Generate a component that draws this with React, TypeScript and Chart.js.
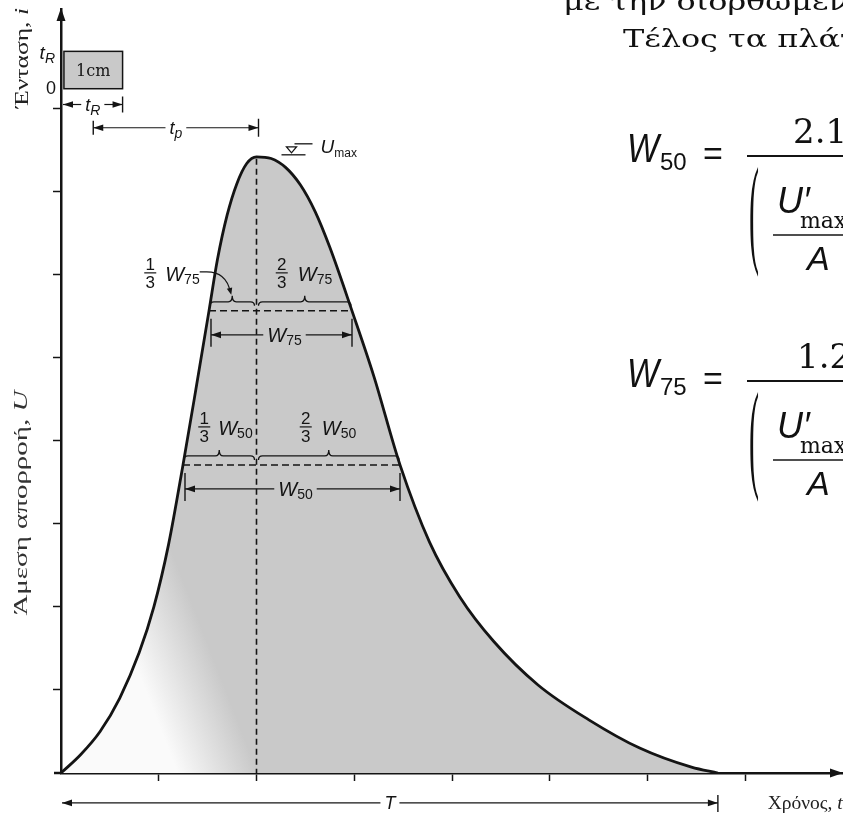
import React, { useEffect, useRef } from "react";
import { Chart, registerables } from "chart.js";

Chart.register(...registerables);

// ---------------- data ----------------
const timeValues = [0, 0.2, 0.4, 0.6, 0.8, 0.95, 1.1, 1.248, 1.38, 1.514, 1.6, 1.7, 1.8, 1.9, 2.0, 2.15, 2.3, 2.45, 2.6, 2.75, 2.977, 3.2, 3.468, 3.77, 4.08, 4.43, 4.88, 5.4, 5.92, 6.45, 6.72];
const runoffValues = [0, 0.22, 0.5, 0.9, 1.45, 2.0, 2.75, 3.71, 4.62, 5.565, 6.18, 6.72, 7.1, 7.34, 7.42, 7.4, 7.29, 7.08, 6.76, 6.33, 5.565, 4.78, 3.71, 2.78, 2.12, 1.58, 1.06, 0.64, 0.3, 0.07, 0];
const xTickValues = [1, 2, 3, 4, 5, 6, 7];
const yTickValues = [1, 2, 3, 4, 5, 6, 7, 8];
const peakTime = 2.0;
const peakFlow = 7.42;
const baseTime = 6.72;
const rainStart = 0.03;
const rainEnd = 0.63;
const rainLow = 8.24;
const rainHigh = 8.69;
const rainCentroid = 0.33;
const w75Range = [1.514, 2.977];
const w50Range = [1.248, 3.468];
const dimTRLevel = 8.05;
const dimTPLevel = 7.77;
const dimTLevel = -0.36;
const shadeMid = [1.3, 1.17];

const axisTitleIntensity = ["Ένταση, ", "i"];
const axisTitleRunoff = ["Άμεση απορροή, ", "U"];
const axisTitleTime = ["Χρόνος, ", "t"];
const pageLine1 = "με την διορθωμένη";
const pageLine2 = "Τέλος τα πλάτη";
const pageLine2Visible = "Τέλος τα πλά";
const formulaRows = [
  { sub: "50", num: "2.1" },
  { sub: "75", num: "1.2" },
];

// ---------------- styles ----------------
const INK = "#141414";
const FILL_GRAY = "#c9c9c9";
const SANS = '"Liberation Sans", Arial, sans-serif';
const SERIF = '"Liberation Serif", "Times New Roman", serif';
const BOOK = '"DejaVu Serif", serif';

type Part = { s: string; font: string; dy?: number };

function partsWidth(ctx: CanvasRenderingContext2D, parts: Part[]) {
  let w = 0;
  for (const p of parts) {
    ctx.font = p.font;
    w += ctx.measureText(p.s).width;
  }
  return w;
}
function drawParts(ctx: CanvasRenderingContext2D, parts: Part[], x: number, y: number) {
  ctx.textAlign = "left";
  ctx.textBaseline = "alphabetic";
  let cx = x;
  for (const p of parts) {
    ctx.font = p.font;
    ctx.fillText(p.s, cx, y + (p.dy || 0));
    cx += ctx.measureText(p.s).width;
  }
  return cx - x;
}
function fitParts(ctx: CanvasRenderingContext2D, parts: Part[], x: number, y: number, target: number) {
  const w = partsWidth(ctx, parts);
  ctx.save();
  ctx.translate(x, y);
  ctx.scale(target / w, 1);
  drawParts(ctx, parts, 0, 0);
  ctx.restore();
}
function rotatedTitle(ctx: CanvasRenderingContext2D, parts: Part[], cx: number, cy: number, length: number) {
  const w = partsWidth(ctx, parts);
  ctx.save();
  ctx.translate(cx, cy);
  ctx.rotate(-Math.PI / 2);
  ctx.scale(length / w, 1);
  drawParts(ctx, parts, -w / 2, 6);
  ctx.restore();
}
function seg(ctx: CanvasRenderingContext2D, x1: number, y1: number, x2: number, y2: number) {
  ctx.beginPath();
  ctx.moveTo(x1, y1);
  ctx.lineTo(x2, y2);
  ctx.stroke();
}
function arrowHead(ctx: CanvasRenderingContext2D, x: number, y: number, dir: number, len = 10, half = 3.5) {
  const c = Math.cos(dir), s = Math.sin(dir);
  ctx.beginPath();
  ctx.moveTo(x, y);
  ctx.lineTo(x - len * c + half * s, y - len * s - half * c);
  ctx.lineTo(x - len * c - half * s, y - len * s + half * c);
  ctx.closePath();
  ctx.fill();
}
function brace(ctx: CanvasRenderingContext2D, x1: number, x2: number, y: number, tip: number) {
  const xm = (x1 + x2) / 2;
  const r = 4;
  ctx.beginPath();
  ctx.moveTo(x1, y + r);
  ctx.quadraticCurveTo(x1, y, x1 + r, y);
  ctx.lineTo(xm - r, y);
  ctx.quadraticCurveTo(xm, y, xm, y - tip);
  ctx.quadraticCurveTo(xm, y, xm + r, y);
  ctx.lineTo(x2 - r, y);
  ctx.quadraticCurveTo(x2, y, x2, y + r);
  ctx.stroke();
}
function fraction(ctx: CanvasRenderingContext2D, num: string, den: string, cx: number, barY: number) {
  ctx.font = `17px ${SANS}`;
  ctx.textAlign = "center";
  ctx.textBaseline = "alphabetic";
  ctx.fillText(num, cx, barY - 3);
  ctx.fillText(den, cx, barY + 15);
  ctx.lineWidth = 1.2;
  seg(ctx, cx - 6, barY, cx + 6, barY);
}
const wParts = (sub: string): Part[] => [
  { s: "W", font: `italic 20px ${SANS}` },
  { s: sub, font: `14px ${SANS}`, dy: 3 },
];
const subParts = (main: string, sub: string, size = 18): Part[] => [
  { s: main, font: `italic ${size}px ${SANS}` },
  { s: sub, font: `italic ${Math.round(size * 0.75)}px ${SANS}`, dy: 4 },
];

function dimension(
  ctx: CanvasRenderingContext2D,
  x1: number,
  x2: number,
  y: number,
  label: Part[],
  o: { leftBar?: [number, number]; rightBar?: [number, number]; shift?: number; leftHead?: boolean; rightHead?: boolean; baseDy?: number }
) {
  const w = partsWidth(ctx, label);
  const cx = (x1 + x2) / 2 + (o.shift || 0);
  ctx.lineWidth = 1.2;
  ctx.setLineDash([]);
  seg(ctx, x1, y, cx - w / 2 - 4, y);
  seg(ctx, cx + w / 2 + 4, y, x2, y);
  if (o.leftHead !== false) arrowHead(ctx, x1, y, Math.PI, 10, 3.3);
  if (o.rightHead !== false) arrowHead(ctx, x2, y, 0, 10, 3.3);
  ctx.lineWidth = 1.4;
  if (o.leftBar) seg(ctx, x1, o.leftBar[0], x1, o.leftBar[1]);
  if (o.rightBar) seg(ctx, x2, o.rightBar[0], x2, o.rightBar[1]);
  drawParts(ctx, label, cx - w / 2, y + (o.baseDy ?? 6));
}

const fillGradient = (c: any) => {
  const chart = c.chart;
  const { ctx, chartArea, scales } = chart;
  if (!chartArea || !scales.x || !scales.y) return FILL_GRAY;
  const mx = scales.x.getPixelForValue(shadeMid[0]);
  const my = scales.y.getPixelForValue(shadeMid[1]);
  const nx = 0.932, ny = -0.362;
  const g = ctx.createLinearGradient(mx - 45 * nx, my - 45 * ny, mx + 30 * nx, my + 30 * ny);
  g.addColorStop(0, "#fafafa");
  g.addColorStop(1, FILL_GRAY);
  return g;
};

const figurePlugin = {
  id: "figureAnnotations",
  afterDraw(chart: any) {
    const { ctx, chartArea: ca, scales } = chart;
    const X = (v: number) => scales.x.getPixelForValue(v);
    const Y = (v: number) => scales.y.getPixelForValue(v);
    const x0 = X(0), y0 = Y(0);
    const xp = X(peakTime), yp = Y(peakFlow);
    ctx.save();
    ctx.fillStyle = INK;
    ctx.strokeStyle = INK;
    ctx.lineCap = "butt";

    // axis extensions and arrow heads
    ctx.lineWidth = 2.5;
    seg(ctx, x0 - 7, y0, x0, y0);
    arrowHead(ctx, ca.right, y0, 0, 13, 4.5);
    arrowHead(ctx, x0, ca.top - 1, -Math.PI / 2, 13, 4.5);

    // peak dashed line
    ctx.lineWidth = 1.6;
    ctx.setLineDash([6, 4]);
    seg(ctx, xp, yp + 2, xp, y0);
    ctx.setLineDash([]);

    // W75 / W50 constructions
    const levels = [
      { frac: 0.75, range: w75Range, sub: "75", outside: true },
      { frac: 0.5, range: w50Range, sub: "50", outside: false },
    ];
    for (const L of levels) {
      const yl = Y(peakFlow * L.frac);
      const xl = X(L.range[0]);
      const xr = X(L.range[1]);
      ctx.lineWidth = 1.5;
      ctx.setLineDash([7, 4]);
      seg(ctx, xl, yl, xr, yl);
      ctx.setLineDash([]);
      const yb = yl - 9;
      ctx.lineWidth = 1.3;
      brace(ctx, xl + 1, xp - 2, yb, 6);
      brace(ctx, xp + 2, xr - 1, yb, 6);
      const tipL = (xl + 1 + xp - 2) / 2;
      const tipR = (xp + 2 + xr - 1) / 2;
      fraction(ctx, "2", "3", tipR - 23, yb - 29);
      drawParts(ctx, wParts(L.sub), tipR - 7, yb - 21);
      if (L.outside) {
        fraction(ctx, "1", "3", tipL - 82, yb - 29);
        const w = drawParts(ctx, wParts(L.sub), tipL - 67, yb - 21);
        const sx = tipL - 67 + w;
        ctx.lineWidth = 1.1;
        ctx.beginPath();
        ctx.moveTo(sx, yb - 30);
        ctx.lineTo(sx + 7, yb - 30);
        ctx.quadraticCurveTo(tipL - 6, yb - 30, tipL - 2, yb - 10);
        ctx.stroke();
        arrowHead(ctx, tipL - 1, yb - 7, Math.PI * 0.42, 7, 2.8);
      } else {
        fraction(ctx, "1", "3", tipL - 15, yb - 29);
        drawParts(ctx, wParts(L.sub), tipL - 1, yb - 21);
      }
      const ya = yl + 24;
      dimension(ctx, xl + 2, xr, ya, wParts(L.sub), {
        leftBar: [yl + 8, ya + 12],
        rightBar: [yl + 8, ya + 12],
        shift: 3,
        baseDy: 7,
      });
    }

    // Umax water-level mark
    ctx.lineWidth = 1.3;
    seg(ctx, xp + 25, yp - 2, xp + 49, yp - 2);
    ctx.beginPath();
    ctx.moveTo(xp + 30, yp - 10);
    ctx.lineTo(xp + 40, yp - 10);
    ctx.lineTo(xp + 35, yp - 4);
    ctx.closePath();
    ctx.stroke();
    seg(ctx, xp + 38, yp - 13, xp + 56, yp - 13);
    drawParts(ctx, [
      { s: "U", font: `italic 19px ${SANS}` },
      { s: "max", font: `12px ${SANS}`, dy: 4 },
    ], xp + 64, yp - 4);

    // rainfall block
    const rx1 = X(rainStart), rx2 = X(rainEnd);
    const ry1 = Y(rainHigh), ry2 = Y(rainLow);
    ctx.fillStyle = FILL_GRAY;
    ctx.fillRect(rx1, ry1, rx2 - rx1, ry2 - ry1);
    ctx.fillStyle = INK;
    ctx.lineWidth = 1.5;
    ctx.strokeRect(rx1, ry1, rx2 - rx1, ry2 - ry1);
    ctx.font = `16px ${BOOK}`;
    ctx.textAlign = "center";
    ctx.fillText("1cm", (rx1 + rx2) / 2, (ry1 + ry2) / 2 + 6);
    const tRw = partsWidth(ctx, subParts("t", "R", 19));
    drawParts(ctx, subParts("t", "R", 19), x0 - 6 - tRw, ry1 + 8);
    ctx.font = `18px ${SANS}`;
    ctx.textAlign = "right";
    ctx.fillText("0", x0 - 5, ry2 + 5);

    // dimension lines
    dimension(ctx, x0 + 2, rx2, Y(dimTRLevel), subParts("t", "R", 18), {
      rightBar: [Y(dimTRLevel) - 8, Y(dimTRLevel) + 8],
    });
    dimension(ctx, X(rainCentroid), xp + 2, Y(dimTPLevel), subParts("t", "p", 18), {
      leftBar: [Y(dimTPLevel) - 7, Y(dimTPLevel) + 7],
      rightBar: [Y(dimTPLevel) - 9, Y(dimTPLevel) + 9],
    });
    dimension(ctx, x0 + 1, X(baseTime), Y(dimTLevel), [{ s: "T", font: `italic 18px ${SANS}` }], {
      rightBar: [Y(dimTLevel) - 8, Y(dimTLevel) + 9],
    });

    // axis titles
    ctx.fillStyle = "#222";
    rotatedTitle(ctx, [
      { s: axisTitleIntensity[0], font: `19px ${SERIF}` },
      { s: axisTitleIntensity[1], font: `italic 19px ${SERIF}` },
    ], ca.left - 39, Y(8.61), 100);
    ctx.fillStyle = "#333";
    rotatedTitle(ctx, [
      { s: axisTitleRunoff[0], font: `18px ${SERIF}` },
      { s: axisTitleRunoff[1], font: `italic 18px ${SERIF}` },
    ], ca.left - 40, Y(3.25), 225);
    ctx.fillStyle = "#222";
    fitParts(ctx, [
      { s: axisTitleTime[0], font: `19px ${SERIF}` },
      { s: axisTitleTime[1], font: `italic 19px ${SERIF}` },
    ], X(7.23), y0 + 36, 75);

    // page text to the right of the figure
    ctx.fillStyle = "#111";
    const bodyFont = `25px ${BOOK}`;
    ctx.font = bodyFont;
    const k = 217 / ctx.measureText(pageLine2Visible).width;
    ctx.textAlign = "left";
    ctx.save();
    ctx.translate(563, 10);
    ctx.scale(k, 1);
    ctx.fillText(pageLine1, 0, 0);
    ctx.restore();
    ctx.save();
    ctx.translate(623, 47);
    ctx.scale(k, 1);
    ctx.fillText(pageLine2, 0, 0);
    ctx.restore();

    formulaRows.forEach((row, i) => {
      const dy = i * 225;
      fitParts(ctx, [{ s: "W", font: `italic 40px ${SANS}` }], 627, 162 + dy, 32);
      drawParts(ctx, [{ s: row.sub, font: `24px ${SANS}` }], 660, 170 + dy);
      drawParts(ctx, [{ s: "=", font: `34px ${SANS}` }], 703, 165 + dy);
      ctx.lineWidth = 1.8;
      seg(ctx, 747, 156 + dy, 843, 156 + dy);
      drawParts(ctx, [{ s: row.num, font: `34px ${BOOK}` }], i === 0 ? 793 : 797, 143 + dy);
      ctx.save();
      ctx.translate(749, 251 + dy);
      ctx.scale(0.75, 3);
      ctx.font = `40px ${SERIF}`;
      ctx.fillText("(", 0, 0);
      ctx.restore();
      drawParts(ctx, [{ s: "U′", font: `italic 36px ${SANS}` }], 777, 213 + dy);
      drawParts(ctx, [{ s: "max", font: `22px ${BOOK}` }], 800, 228 + dy);
      ctx.lineWidth = 1.5;
      seg(ctx, 773, 235 + dy, 843, 235 + dy);
      drawParts(ctx, [{ s: "A", font: `italic 34px ${SANS}` }], 807, 270 + dy);
    });

    ctx.restore();
  },
};

export default function App() {
  const ref = useRef<HTMLCanvasElement>(null);
  useEffect(() => {
    const canvas = ref.current;
    if (!canvas) return;
    const chart = new Chart(canvas, {
      type: "line",
      data: {
        datasets: [
          {
            data: timeValues.map((t, i) => ({ x: t, y: runoffValues[i] })),
            borderColor: INK,
            borderWidth: 2.8,
            pointRadius: 0,
            fill: "origin",
            backgroundColor: fillGradient,
            cubicInterpolationMode: "monotone",
          } as any,
        ],
      },
      options: {
        responsive: false,
        animation: false,
        devicePixelRatio: 1,
        events: [],
        layout: { padding: { left: 61, right: 0, top: 9, bottom: 47 } },
        plugins: { legend: { display: false }, tooltip: { enabled: false }, title: { display: false } },
        scales: {
          x: {
            type: "linear",
            min: 0,
            max: 8,
            position: "bottom",
            z: 1,
            afterFit: (s: any) => { s.height = 0; },
            afterBuildTicks: (s: any) => { s.ticks = xTickValues.map((v) => ({ value: v })); },
            ticks: { display: false },
            grid: { drawOnChartArea: false, drawTicks: true, tickLength: 8, tickWidth: 1.5, tickColor: INK },
            border: { display: true, color: INK, width: 2.5 },
          },
          y: {
            type: "linear",
            min: 0,
            max: 9.2,
            position: "left",
            z: 1,
            afterFit: (s: any) => { s.width = 0; },
            afterBuildTicks: (s: any) => { s.ticks = yTickValues.map((v) => ({ value: v })); },
            ticks: { display: false },
            grid: { drawOnChartArea: false, drawTicks: true, tickLength: 8, tickWidth: 1.5, tickColor: INK },
            border: { display: true, color: INK, width: 2.5 },
          },
        },
      } as any,
      plugins: [figurePlugin],
    });
    return () => chart.destroy();
  }, []);
  return (
    <div style={{ position: "absolute", left: 0, top: 0, width: 843, height: 820, background: "#fff" }}>
      <canvas ref={ref} width={843} height={820} style={{ display: "block" }} />
    </div>
  );
}
